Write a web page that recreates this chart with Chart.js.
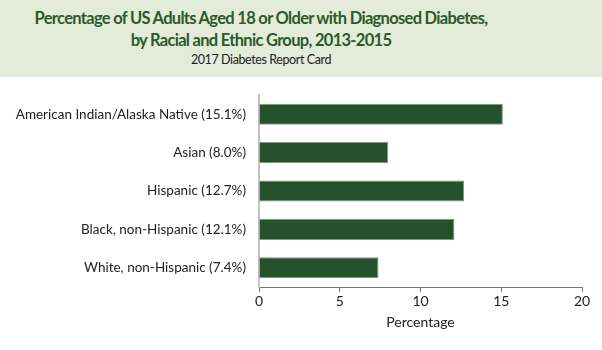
<!DOCTYPE html>
<html>
<head>
<meta charset="utf-8">
<script src="https://cdn.jsdelivr.net/npm/chart.js@4"></script>
<style>
  html, body { margin: 0; padding: 0; background: #fff; }
  body { width: 602px; height: 350px; overflow: hidden; font-family: Lato, sans-serif; }
  #header { height: 77px; background: #e3ebd9; box-sizing: border-box; padding: 7px 80px 0 0; text-align: center; }
  #header .t { color: #2b5a2d; font-weight: bold; font-size: 16.5px; letter-spacing: -0.7px; line-height: 22px; }
  #header .s { color: #222; font-size: 12.5px; letter-spacing: -0.4px; line-height: 18px; }
  #wrap { position: relative; width: 602px; height: 273px; }
</style>
</head>
<body>
<div id="header">
  <div class="t">Percentage of US Adults Aged 18 or Older with Diagnosed Diabetes,</div>
  <div class="t">by Racial and Ethnic Group, 2013-2015</div>
  <div class="s">2017 Diabetes Report Card</div>
</div>
<div id="wrap"><canvas id="diabetesChart"></canvas></div>
<script>
// data
var groups = ['American Indian/Alaska Native (15.1%)', 'Asian (8.0%)', 'Hispanic (12.7%)', 'Black, non-Hispanic (12.1%)', 'White, non-Hispanic (7.4%)'];
var percentages = [15.1, 8.0, 12.7, 12.1, 7.4];
var xTicks = [0, 5, 10, 15, 20];

var diabetesChart = new Chart(document.getElementById('diabetesChart'), {
  type: 'bar',
  data: {
    labels: groups,
    datasets: [
      {
        label: 'Percentage',
        data: percentages,
        backgroundColor: '#24512b',
        borderColor: '#7f9a80',
        borderWidth: 1,
        barPercentage: 0.55,
        categoryPercentage: 1
      }
    ]
  },
  options: {
    indexAxis: 'y',
    responsive: true,
    maintainAspectRatio: false,
    animation: false,
    layout: { padding: { top: 18, left: 0, right: 20, bottom: 0 } },
    plugins: {
      legend: { display: false },
      tooltip: { enabled: false }
    },
    scales: {
      x: {
        min: 0,
        max: 20,
        afterBuildTicks: function (scale) {
          scale.ticks = xTicks.map(function (v) { return { value: v }; });
        },
        afterFit: function (scale) { scale.height = 63; },
        grid: { drawOnChartArea: false, drawTicks: true, tickLength: 5, color: '#777' },
        border: { color: '#777', width: 1 },
        ticks: { color: '#222', font: { family: 'Lato', size: 14 }, padding: 1 },
        title: {
          display: true,
          text: 'Percentage',
          color: '#222',
          font: { family: 'Lato', size: 14 },
          padding: { top: 0, bottom: 19 }
        }
      },
      y: {
        afterFit: function (scale) { scale.width = 259; },
        grid: { display: false },
        border: { color: '#c2c2c2', width: 2 },
        ticks: { color: '#222', font: { family: 'Lato', size: 13.5 }, padding: 5 }
      }
    }
  }
});
</script>
</body>
</html>
